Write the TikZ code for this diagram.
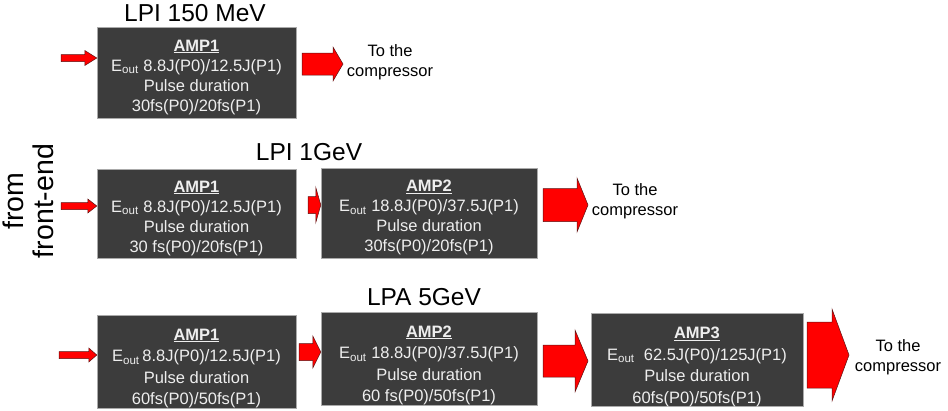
\documentclass[tikz,border=0pt]{standalone}
\usepackage{fontspec}
\setmainfont{Liberation Sans}
\usetikzlibrary{calc}
\definecolor{boxfill}{RGB}{60,60,60}
\definecolor{boxline}{RGB}{170,170,170}
\definecolor{boxtext}{RGB}{238,238,238}
\definecolor{arrfill}{RGB}{255,0,0}
\definecolor{arrline}{RGB}{90,20,20}
\tikzset{
  ampbox/.style={draw=boxline, line width=0.4pt, fill=boxfill, text=boxtext, align=center,
    inner sep=0pt, font=\fontsize{16.5}{20}\selectfont},
  ampboxtall/.style={ampbox, font=\fontsize{16.5}{21.5}\selectfont},
  titletext/.style={font=\fontsize{24.5}{28}\selectfont, text=black, inner sep=0pt},
  desttext/.style={font=\fontsize{16.5}{20}\selectfont, align=center, inner sep=0pt},
  blockarr/.style={draw=arrline, line width=0.5pt, fill=arrfill, line join=miter}
}
% #1 title, #2 strut height (moves the text block down)
\newcommand\amptitle[2]{\rule{0pt}{#2}\underline{\textbf{#1}}}
% #1 start, #2 tip, #3 head length, #4 shaft half width, #5 head half width
\newcommand\blockarrow[5]{%
  \path[blockarr] let \p1=(#1), \p2=(#2) in
    (\x1,\y1+#4pt) -- (\x2-#3pt,\y1+#4pt) -- (\x2-#3pt,\y1+#5pt) -- (\x2,\y1)
    -- (\x2-#3pt,\y1-#5pt) -- (\x2-#3pt,\y1-#4pt) -- (\x1,\y1-#4pt) -- cycle;}
\begin{document}
\begin{tikzpicture}[x=1pt,y=-1pt]
\useasboundingbox (0,0) rectangle (948,410);

% titles
\node[titletext] (t1) at (195,13) {LPI 150 MeV};
\node[titletext] (t2) at (309,152) {LPI 1GeV};
\node[titletext] (t3) at (424,297) {LPA 5GeV};

% side label
\node[rotate=90, align=center, font=\fontsize{28.5}{30}\selectfont, inner sep=0pt] (fe) at (28,201) {from\\front-end};

% row 1
\node[ampbox, minimum width=199pt, minimum height=91pt] (r1a) at (196.5,72.5)
  {\amptitle{AMP1}{21pt}\\E\textsubscript{out} 8.8J(P0)/12.5J(P1)\\Pulse duration\\30fs(P0)/20fs(P1)};
\node[desttext] (d1) at (390,62) {To the\\compressor};

% row 2
\node[ampbox, minimum width=199pt, minimum height=89pt] (r2a) at (196.5,213.5)
  {\amptitle{AMP1}{21pt}\\E\textsubscript{out} 8.8J(P0)/12.5J(P1)\\Pulse duration\\30 fs(P0)/20fs(P1)};
\node[ampbox, minimum width=216pt, minimum height=90pt] (r2b) at (429,213)
  {\amptitle{AMP2}{21pt}\\E\textsubscript{out} 18.8J(P0)/37.5J(P1)\\Pulse duration\\30fs(P0)/20fs(P1)};
\node[desttext] (d2) at (635,201) {To the\\compressor};

% row 3
\node[ampboxtall, minimum width=199pt, minimum height=89pt] (r3a) at (196.5,361.5)
  {\amptitle{AMP1}{25pt}\\E\textsubscript{out}\,8.8J(P0)/12.5J(P1)\\Pulse duration\\60fs(P0)/50fs(P1)};
\node[ampboxtall, minimum width=216pt, minimum height=91pt] (r3b) at (429,358.5)
  {\amptitle{AMP2}{25pt}\\E\textsubscript{out} 18.8J(P0)/37.5J(P1)\\Pulse duration\\60 fs(P0)/50fs(P1)};
\node[ampboxtall, minimum width=212pt, minimum height=90pt] (r3c) at (697,360)
  {\amptitle{AMP3}{25pt}\\E\textsubscript{out}\ \ 62.5J(P0)/125J(P1)\\Pulse duration\\60fs(P0)/50fs(P1)};
\node[desttext] (d3) at (898,357) {To the\\compressor};

% arrow end points
\coordinate (i1) at (61,58);
\coordinate (o1s) at (302,64);
\coordinate (o1t) at (343,64);
\coordinate (i2) at (61,206);
\coordinate (m2) at (308,205);
\coordinate (o2s) at (543,205);
\coordinate (o2t) at (588,205);
\coordinate (i3) at (59,355);
\coordinate (m3a) at (299,352);
\coordinate (m3b) at (543,361);
\coordinate (m3bt) at (588,361);
\coordinate (o3s) at (807,355);
\coordinate (o3t) at (849,355);

% arrows
\blockarrow{i1}{r1a.west}{12}{3.5}{7.5}
\blockarrow{o1s}{o1t}{10}{11}{17}
\blockarrow{i2}{r2a.west}{9}{3.5}{7}
\blockarrow{m2}{r2b.west}{5}{8.5}{17.5}
\blockarrow{o2s}{o2t}{11}{16.5}{27}
\blockarrow{i3}{r3a.west}{8}{3.5}{7}
\blockarrow{m3a}{r3b.west}{8}{8.5}{16}
\blockarrow{m3b}{m3bt}{13}{16}{31}
\blockarrow{o3s}{o3t}{17}{33}{46}
\end{tikzpicture}
\end{document}
